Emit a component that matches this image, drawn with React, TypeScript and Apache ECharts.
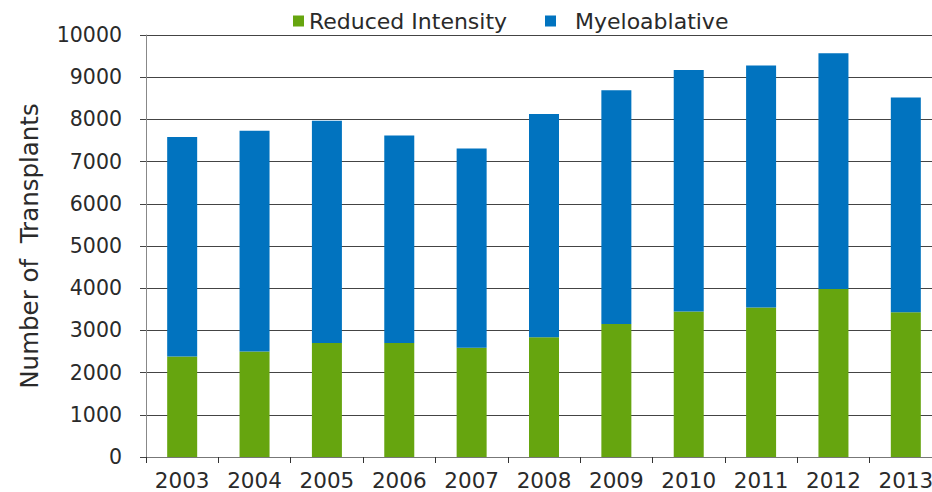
import React, { useEffect, useRef } from "react";
import * as echarts from "echarts";

const years = ["2003", "2004", "2005", "2006", "2007", "2008", "2009", "2010", "2011", "2012", "2013"];
const reducedIntensity = [2380, 2500, 2700, 2700, 2590, 2840, 3150, 3450, 3540, 3980, 3430];
const myeloablative = [5200, 5230, 5270, 4920, 4720, 5290, 5540, 5720, 5740, 5590, 5090];
const yTicks = { min: 0, max: 10000, interval: 1000 };

const FONT = "'DejaVu Sans', 'Liberation Sans', Arial, sans-serif";
const TEXT = "#2a2a2a";
const GREEN = "#66a50f";
const BLUE = "#0173bf";

export default function App() {
  const ref = useRef<HTMLDivElement>(null);

  useEffect(() => {
    if (!ref.current) return;
    const chart = echarts.init(ref.current, undefined, { renderer: "svg" });
    const legendText = { fontFamily: FONT, fontSize: 22, color: TEXT };
    chart.setOption({
      animation: false,
      backgroundColor: "#ffffff",
      textStyle: { fontFamily: FONT },
      legend: [
        {
          left: 288,
          top: 5,
          icon: "rect",
          itemWidth: 11,
          itemHeight: 11,
          textStyle: legendText,
          data: ["Reduced Intensity"],
        },
        {
          left: 540,
          top: 5,
          icon: "rect",
          itemWidth: 11,
          itemHeight: 11,
          textStyle: legendText,
          formatter: (name: string) => "  " + name,
          data: ["Myeloablative"],
        },
      ],
      grid: {
        left: 146,
        top: 35,
        width: 796,
        height: 422,
        containLabel: false,
        outerBoundsMode: "none",
      },
      xAxis: {
        type: "category",
        data: years,
        axisLine: { lineStyle: { color: "#777", width: 1 } },
        axisTick: { show: true, length: 6, lineStyle: { color: "#333" } },
        axisLabel: { fontFamily: FONT, fontSize: 21.5, color: TEXT, margin: 12 },
      },
      yAxis: {
        type: "value",
        min: yTicks.min,
        max: yTicks.max,
        interval: yTicks.interval,
        name: "Number of  Transplants",
        nameLocation: "middle",
        nameGap: 104,
        nameTextStyle: { fontFamily: FONT, fontSize: 24.5, color: TEXT },
        axisLine: { show: true, lineStyle: { color: "#888", width: 1 } },
        axisTick: { show: true, length: 6, lineStyle: { color: "#444" } },
        axisLabel: {
          fontFamily: FONT,
          fontSize: 20.5,
          color: TEXT,
          margin: 24,
          formatter: (v: number) => String(v),
        },
        splitLine: { show: true, lineStyle: { color: "#444", width: 1 } },
      },
      series: [
        {
          name: "Reduced Intensity",
          type: "bar",
          stack: "total",
          barWidth: 30,
          itemStyle: { color: GREEN },
          data: reducedIntensity,
        },
        {
          name: "Myeloablative",
          type: "bar",
          stack: "total",
          barWidth: 30,
          itemStyle: { color: BLUE },
          data: myeloablative,
        },
      ],
    });
    return () => chart.dispose();
  }, []);

  return (
    <div
      ref={ref}
      style={{ position: "fixed", left: 0, top: 0, width: 932, height: 492, background: "#fff" }}
    />
  );
}
